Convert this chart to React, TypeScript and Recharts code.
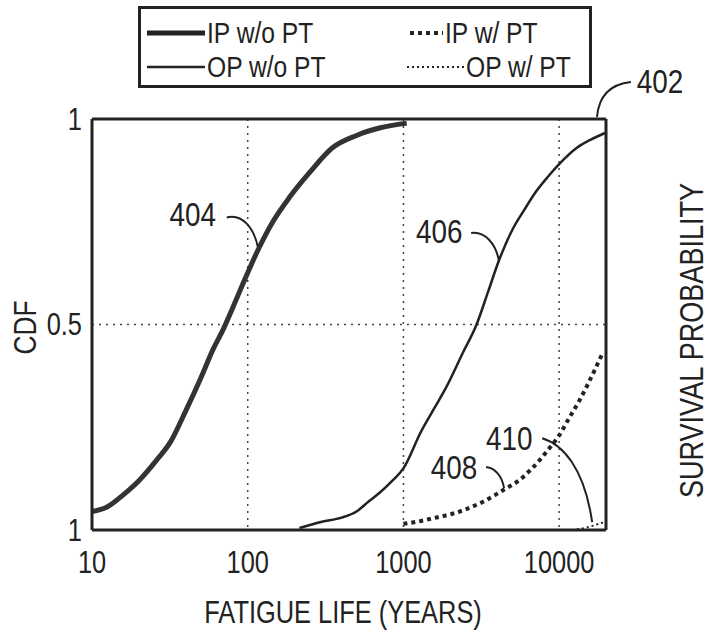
import { LineChart, Line, XAxis, YAxis, CartesianGrid, ReferenceLine, ReferenceDot, Legend } from 'recharts'

const FONT = "'Liberation Sans', Arial, sans-serif"
const INK = '#222'
const SQUEEZE = 0.82 // the scan uses a narrow face

// axes
const xTicks = [10, 100, 1000, 10000]
const yTicks = [0, 0.5, 1]
const cdfTickLabels = ['1', '0.5', '1']
const survivalTickLabels = ['0', '0.5', '1']

// 404 - IP w/o PT
const ipNoPtLife = [10, 12.5, 15.8, 20, 26, 32, 40, 50, 60, 70, 80, 91, 116, 145, 186, 250, 350, 500, 700, 1050]
const ipNoPtCdf = [0.045, 0.056, 0.085, 0.12, 0.17, 0.215, 0.29, 0.37, 0.44, 0.49, 0.54, 0.59, 0.68, 0.75, 0.81, 0.87, 0.93, 0.96, 0.978, 0.99]

// 406 - OP w/o PT
const opNoPtLife = [215, 300, 400, 500, 600, 700, 850, 1000, 1300, 1600, 1900, 2400, 2950, 3500, 4100, 5000, 6000, 7000, 8500, 10000, 13000, 16000, 19700]
const opNoPtCdf = [0.005, 0.02, 0.03, 0.045, 0.07, 0.09, 0.12, 0.15, 0.24, 0.3, 0.35, 0.43, 0.5, 0.58, 0.655, 0.73, 0.78, 0.82, 0.86, 0.89, 0.93, 0.95, 0.966]

// 408 - IP w/ PT
const ipPtLife = [1000, 1300, 1600, 2000, 2500, 3100, 3800, 4500, 5500, 6500, 7500, 8700, 10000, 11500, 13500, 16000, 19000]
const ipPtCdf = [0.015, 0.022, 0.03, 0.038, 0.05, 0.065, 0.083, 0.1, 0.12, 0.145, 0.17, 0.2, 0.23, 0.27, 0.315, 0.37, 0.43]

// 410 - OP w/ PT
const opPtLife = [13000, 15000, 17000, 19700]
const opPtCdf = [0.002, 0.006, 0.012, 0.02]

// callout numbers and the point each one touches
const calloutText = ['404', '406', '408', '410', '402']
const calloutLife = [116, 4120, 4430, 16300, 17500]
const calloutCdf = [0.69, 0.652, 0.102, 0.019, 1]

const toPoints = (life: number[], cdf: number[]) => life.map((x, i) => ({ x, y: cdf[i] }))

// leader line + label offsets (px) relative to the anchor point
const calloutDraw: Record<string, { d: string; tx: number; ty: number }> = {
  '404': { d: 'M -31 -29 C -15 -33, -4 -18, 0 0', tx: -65, ty: -32 },
  '406': { d: 'M -28 -29 C -14 -31, -3 -18, 0 0', tx: -60, ty: -31 },
  '408': { d: 'M -18 -21 C -9 -20, -2 -12, 0 0', tx: -50, ty: -21 },
  '410': { d: 'M -50 -84 C -30 -78, -8 -55, 0 0', tx: -83, ty: -84 },
  '402': { d: 'M 34 -37 C 15 -35, 2 -25, 0 -2', tx: 63, ty: -37 },
}

function NText({ x, y, size, anchor = 'middle', rotate = 0, children }: any) {
  return (
    <text
      transform={`translate(${x},${y}) rotate(${rotate}) scale(${SQUEEZE},1)`}
      textAnchor={anchor}
      dominantBaseline='central'
      fontSize={size}
      fontFamily={FONT}
      fill={INK}
    >
      {children}
    </text>
  )
}

function Callout(props: any) {
  const { cx, cy, label } = props
  const c = calloutDraw[label]
  return (
    <g>
      <path d={c.d} transform={`translate(${cx},${cy})`} fill='none' stroke={INK} strokeWidth={2} />
      <NText x={cx + c.tx} y={cy + c.ty} size={34}>
        {label}
      </NText>
    </g>
  )
}

function LegendItem({ left, top, w, text, width, dash }: any) {
  return (
    <div style={{ position: 'absolute', left, top, height: 30, display: 'flex', alignItems: 'center', whiteSpace: 'nowrap' }}>
      <svg width={w} height={30}>
        <line x1={0} x2={w} y1={15} y2={15} stroke={INK} strokeWidth={width} strokeDasharray={dash} />
      </svg>
      <span style={{ marginLeft: 2, lineHeight: '30px', display: 'inline-block', transform: `scaleX(${SQUEEZE})`, transformOrigin: 'left center' }}>
        {text}
      </span>
    </div>
  )
}

function LegendBox() {
  return (
    <div
      style={{
        width: 454,
        height: 82,
        boxSizing: 'border-box',
        border: `3px solid ${INK}`,
        position: 'relative',
        fontFamily: FONT,
        fontSize: 30,
        color: INK,
      }}
    >
      <LegendItem left={6} top={9} w={58} text='IP w/o PT' width={5} />
      <LegendItem left={6} top={43} w={58} text='OP w/o PT' width={2.5} />
      <LegendItem left={269} top={9} w={33} text='IP w/ PT' width={4} dash='4 4' />
      <LegendItem left={266} top={43} w={57} text='OP w/ PT' width={2} dash='2 3' />
    </div>
  )
}

export default function App() {
  return (
    <div style={{ position: 'absolute', left: 0, top: 0, background: '#fff' }}>
      <LineChart width={710} height={634} margin={{ top: 37, right: 0, bottom: 0, left: 0 }}>
        <Legend verticalAlign='top' content={() => <LegendBox />} wrapperStyle={{ top: 6, left: 138, width: 454 }} />
        <CartesianGrid stroke='#444' strokeWidth={1.5} strokeDasharray='2 5' />
        <XAxis
          dataKey='x'
          type='number'
          scale='log'
          domain={[10, 20000]}
          ticks={xTicks}
          allowDataOverflow
          height={104}
          tickLine={false}
          tickSize={6}
          tickMargin={15}
          tick={(p: any) => (
            <NText x={p.x} y={p.y + 11} size={31}>
              {p.payload.value}
            </NText>
          )}
          axisLine={{ stroke: INK, strokeWidth: 3 }}
          label={{
            content: ({ viewBox }: any) => (
              <NText x={viewBox.x + viewBox.width / 2 - 6} y={viewBox.y + 82} size={31}>
                FATIGUE LIFE (YEARS)
              </NText>
            ),
          }}
        />
        <YAxis
          type='number'
          domain={[0, 1]}
          ticks={yTicks}
          width={92}
          tickLine={false}
          tickSize={6}
          tickMargin={4}
          tick={(p: any) => (
            <NText x={p.x} y={p.y} size={31} anchor='end'>
              {cdfTickLabels[yTicks.indexOf(p.payload.value)]}
            </NText>
          )}
          axisLine={{ stroke: INK, strokeWidth: 3 }}
          label={{
            content: ({ viewBox }: any) => (
              <NText x={viewBox.x + 25} y={viewBox.y + viewBox.height / 2 + 3} size={32} rotate={-90}>
                CDF
              </NText>
            ),
          }}
        />
        <YAxis
          yAxisId='right'
          orientation='right'
          type='number'
          domain={[0, 1]}
          reversed
          ticks={yTicks}
          width={104}
          tickLine={false}
          tickSize={6}
          tickMargin={11}
          tick={(p: any) => (
            <NText x={p.x} y={p.y} size={31} anchor='start'>
              {survivalTickLabels[yTicks.indexOf(p.payload.value)]}
            </NText>
          )}
          axisLine={{ stroke: INK, strokeWidth: 3 }}
          label={{
            content: ({ viewBox }: any) => (
              <NText x={viewBox.x + 86} y={viewBox.y + viewBox.height / 2 + 16} size={33} rotate={-90}>
                SURVIVAL PROBABILITY
              </NText>
            ),
          }}
        />
        <ReferenceLine y={1} stroke={INK} strokeWidth={3} />

        <Line data={toPoints(ipNoPtLife, ipNoPtCdf)} dataKey='y' name='IP w/o PT' type='monotone' stroke='#333' strokeWidth={5} dot={false} isAnimationActive={false} />
        <Line data={toPoints(opNoPtLife, opNoPtCdf)} dataKey='y' name='OP w/o PT' type='monotone' stroke={INK} strokeWidth={2.5} dot={false} isAnimationActive={false} />
        <Line data={toPoints(ipPtLife, ipPtCdf)} dataKey='y' name='IP w/ PT' type='monotone' stroke={INK} strokeWidth={4} strokeDasharray='4 4' dot={false} isAnimationActive={false} />
        <Line data={toPoints(opPtLife, opPtCdf)} dataKey='y' name='OP w/ PT' type='monotone' stroke={INK} strokeWidth={2} strokeDasharray='2 3' dot={false} isAnimationActive={false} />

        {calloutText.map((t, i) => (
          <ReferenceDot key={t} x={calloutLife[i]} y={calloutCdf[i]} ifOverflow='visible' shape={(p: any) => <Callout {...p} label={t} />} />
        ))}
      </LineChart>
    </div>
  )
}
